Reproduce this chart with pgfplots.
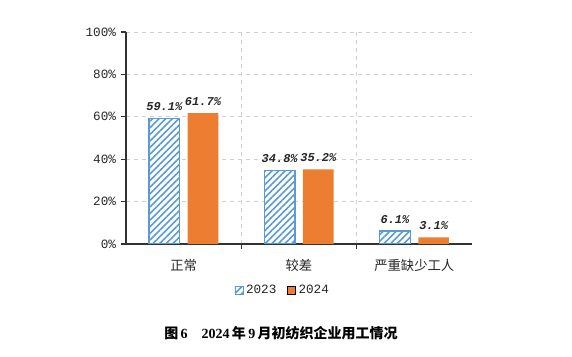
\documentclass[border=0pt]{standalone}
\usepackage{pgfplots}
\pgfplotsset{compat=1.18}
\usetikzlibrary{patterns.meta}
\usepackage{fontspec}
\setmainfont{Liberation Serif}
\setmonofont{Liberation Mono}
\newfontfamily\cjk{Noto Sans CJK SC}
\definecolor{cblue}{HTML}{5B9BD5}
\definecolor{corange}{HTML}{ED7D31}
\definecolor{cgrid}{HTML}{D0D0D0}
\begin{document}
\begin{tikzpicture}
\path (0pt,0pt) rectangle (429pt,267.75pt);
\begin{axis}[
  at={(94.5pt,84.75pt)}, anchor=south west,
  scale only axis, width=259.5pt, height=159pt,
  ybar=6pt, bar width=23pt,
  xmin=-0.5, xmax=2.5, ymin=0, ymax=100,
  axis x line*=bottom, axis y line*=left,
  axis line style={black!80, line width=0.8pt},
  xtick={0,1,2},
  xticklabels={正常,较差,严重缺少工人},
  xticklabel style={font=\cjk\fontsize{10}{12}\selectfont, text=black!85, yshift=-4pt},
  major x tick style={draw=none},
  minor xtick={0.5,1.5},
  xminorgrids=true,
  minor x tick style={black!80, line width=0.8pt},
  minor tick length=4pt,
  extra x ticks={2.5},
  extra x tick labels={},
  extra x tick style={grid=none, major tick length=4pt, major x tick style={black!80, line width=0.8pt}},
  tick align=outside,
  ytick={0,20,40,60,80,100},
  yticklabel={\pgfmathprintnumber{\tick}\%},
  yticklabel style={font=\ttfamily\fontsize{9.5}{10}\selectfont, text=black!85},
  /pgf/number format/assume math mode=true,
  ymajorgrids=true,
  major tick length=4pt,
  y tick style={black!80, line width=0.8pt},
  grid style={cgrid, dashed, line width=0.6pt},
  minor grid style={cgrid, dashed, line width=0.6pt},
  nodes near coords={\pgfmathprintnumber[fixed,precision=1,fixed zerofill]{\pgfplotspointmeta}\%},
  nodes near coords style={font=\ttfamily\bfseries\itshape\fontsize{9}{10}\selectfont, text=black!85, anchor=south, yshift=2pt},
  legend style={at={(0.454,-0.217)}, anchor=center, draw=none, legend columns=2,
    font=\ttfamily\fontsize{9.5}{10}\selectfont, text=black!85,
    /tikz/every even column/.append style={column sep=6pt}},
  legend image code/.code={\draw[#1, line width=0.6pt] (0pt,-3pt) rectangle (6pt,3pt);},
]
\addplot[draw=cblue, line width=1pt, fill=white, postaction={pattern={Lines[angle=45,distance=3.5pt,line width=1.2pt]}, pattern color=cblue}]
  coordinates {(0,59.1) (1,34.8) (2,6.1)};
\addplot[draw=none, fill=corange]
  coordinates {(0,61.7) (1,35.2) (2,3.1)};
\legend{2023,2024}
\end{axis}
\node[font=\fontsize{10.5}{12}\selectfont\bfseries] at (210.75pt,18pt)
  {{\cjk\bfseries 图}\,6\quad 2024\,{\cjk\bfseries 年}\,9\,{\cjk\bfseries 月初纺织企业用工情况}};
\end{tikzpicture}
\end{document}
